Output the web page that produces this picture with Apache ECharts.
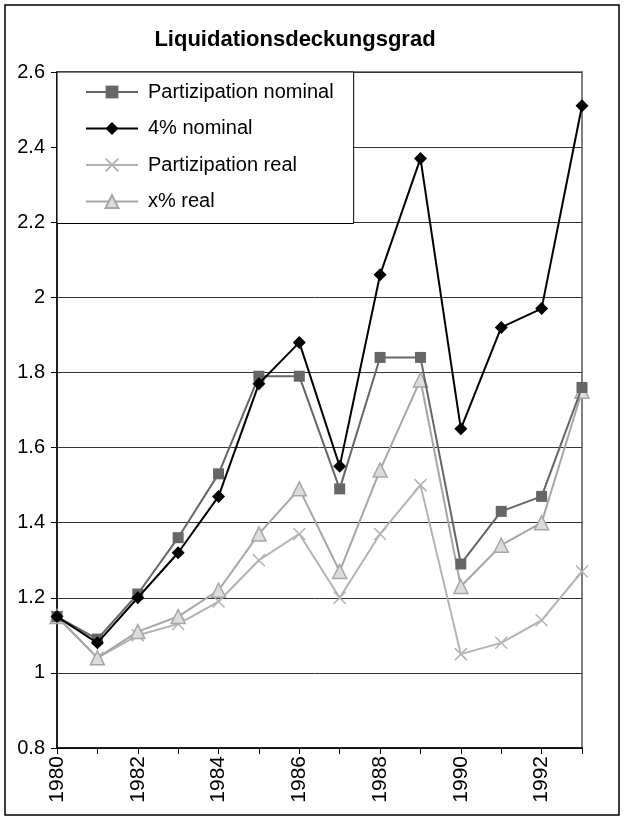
<!DOCTYPE html>
<html>
<head>
<meta charset="utf-8">
<script src="https://cdn.jsdelivr.net/npm/echarts@6/dist/echarts.min.js"></script>
<style>
  html, body { margin: 0; padding: 0; background: #fff; }
  #chart { width: 625px; height: 818px; }
</style>
</head>
<body>
<div id="chart"></div>
<script>
// Years on the category axis
const years = ['1980','1981','1982','1983','1984','1985','1986','1987','1988','1989','1990','1991','1992','1993'];

// Liquidation coverage ratio per strategy
const partNominal = [1.15, 1.09, 1.21, 1.36, 1.53, 1.79, 1.79, 1.49, 1.84, 1.84, 1.29, 1.43, 1.47, 1.76];
const fourNominal = [1.15, 1.08, 1.20, 1.32, 1.47, 1.77, 1.88, 1.55, 2.06, 2.37, 1.65, 1.92, 1.97, 2.51];
const partReal    = [1.15, 1.04, 1.10, 1.13, 1.19, 1.30, 1.37, 1.20, 1.37, 1.50, 1.05, 1.08, 1.14, 1.27];
const xReal       = [1.15, 1.04, 1.11, 1.15, 1.22, 1.37, 1.49, 1.27, 1.54, 1.78, 1.23, 1.34, 1.40, 1.75];

const seriesNames = ['Partizipation nominal', '4% nominal', 'Partizipation real', 'x% real'];

const FONT = '"Liberation Sans", Arial, sans-serif';
const crossPath = 'path://M0,0L10,10M10,0L0,10';

const chart = echarts.init(document.getElementById('chart'), null, { renderer: 'canvas' });

chart.setOption({
  animation: false,
  backgroundColor: '#fff',
  title: {
    text: 'Liquidationsdeckungsgrad',
    left: 290,
    textAlign: 'center',
    top: 24,
    textStyle: { fontFamily: FONT, fontSize: 22, fontWeight: 'bold', color: '#000' }
  },
  graphic: [{
    type: 'rect',
    shape: { x: 5, y: 5, width: 614, height: 810 },
    style: { fill: 'none', stroke: '#000', lineWidth: 1.5 },
    silent: true,
    z: -1
  }],
  grid: {
    left: 57, right: 43, top: 72, bottom: 70,
    show: true,
    borderColor: '#808080',
    borderWidth: 2,
    backgroundColor: 'transparent'
  },
  legend: {
    orient: 'vertical',
    left: 57,
    top: 72,
    padding: [10, 20, 12, 28],
    itemWidth: 52,
    itemHeight: 16,
    itemGap: 16.5,
    backgroundColor: '#fff',
    borderColor: '#000',
    borderWidth: 1,
    borderRadius: 0,
    data: seriesNames,
    textStyle: { fontFamily: FONT, fontSize: 20, color: '#000', lineHeight: 20, padding: [0, 0, 0, 5] },
    z: 10
  },
  xAxis: {
    type: 'category',
    data: years,
    boundaryGap: false,
    axisLine: { lineStyle: { color: '#000', width: 1.5 } },
    axisTick: { show: true, inside: false, length: 6, interval: 0, lineStyle: { color: '#000' } },
    axisLabel: {
      interval: 1,
      rotate: 90,
      margin: 8,
      fontFamily: FONT,
      fontSize: 21,
      color: '#000'
    },
    splitLine: { show: false }
  },
  yAxis: {
    type: 'value',
    min: 0.8,
    max: 2.6,
    interval: 0.2,
    axisLine: { show: true, lineStyle: { color: '#000', width: 1.5 } },
    axisTick: { show: true, inside: false, length: 6, lineStyle: { color: '#000' } },
    axisLabel: {
      margin: 12,
      fontFamily: FONT,
      fontSize: 20,
      color: '#000',
      formatter: v => String(Math.round(v * 10) / 10)
    },
    splitLine: { show: true, lineStyle: { color: '#333', width: 1 } }
  },
  series: [
    {
      name: seriesNames[0],
      type: 'line',
      data: partNominal,
      symbol: 'rect',
      symbolSize: 11,
      lineStyle: { color: '#666', width: 2 },
      itemStyle: { color: '#666' },
      z: 3
    },
    {
      name: seriesNames[1],
      type: 'line',
      data: fourNominal,
      symbol: 'diamond',
      symbolSize: [13, 13],
      lineStyle: { color: '#000', width: 2 },
      itemStyle: { color: '#000' },
      z: 4
    },
    {
      name: seriesNames[2],
      type: 'line',
      data: partReal,
      symbol: crossPath,
      symbolSize: 12,
      lineStyle: { color: '#b3b3b3', width: 2 },
      itemStyle: { color: 'rgba(0,0,0,0)', borderColor: '#b3b3b3', borderWidth: 1.5 },
      z: 2
    },
    {
      name: seriesNames[3],
      type: 'line',
      data: xReal,
      symbol: 'triangle',
      symbolSize: 14,
      lineStyle: { color: '#a6a6a6', width: 2 },
      itemStyle: { color: '#dcdcdc', borderColor: '#a6a6a6', borderWidth: 1.5 },
      z: 2
    }
  ]
});
</script>
</body>
</html>
